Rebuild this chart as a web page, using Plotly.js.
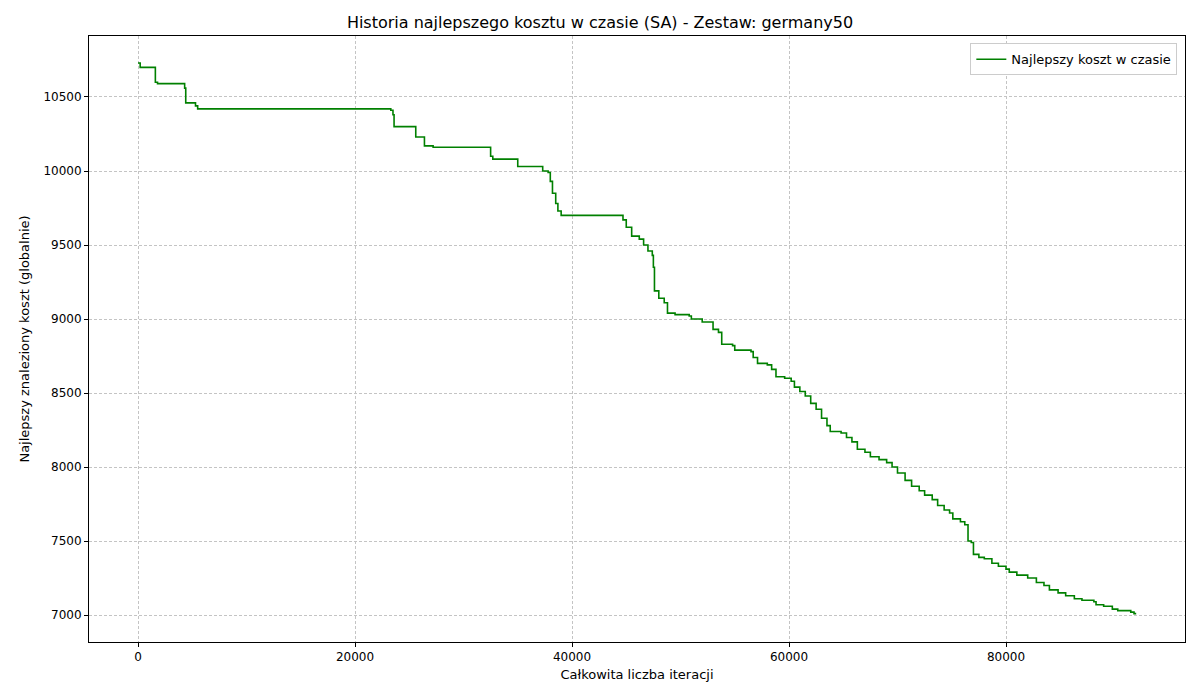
<!DOCTYPE html>
<html>
<head>
<meta charset="utf-8">
<script src="https://cdn.plot.ly/plotly-3.0.1.min.js"></script>
<style>body{margin:0}#gd{width:1200px;height:700px}</style>
</head>
<body>
<div id="gd"></div>
<script>
// best cost history
var iterations = [0,200,1500,1600,1800,4200,4300,4400,5200,5300,5500,22800,23300,23500,23600,25500,25600,26300,26400,27200,32400,32500,32700,34800,35000,37200,37300,37800,38000,38200,38500,38700,39000,44500,44700,45000,45500,46200,46600,47000,47400,47500,47600,48000,48500,48800,49500,50800,51000,52000,53000,53500,53800,54800,55000,56500,56700,57100,58000,58400,58800,59600,60200,60500,61000,61500,62000,62500,63000,63500,63800,64800,65300,65800,66300,67000,67500,68300,69000,69500,70000,70700,71300,72000,72500,73200,73700,74300,74800,75100,75800,76200,76500,76800,77000,77500,78000,78700,79300,80000,80300,81000,82000,82800,83500,84000,84800,85500,86300,87000,88100,88300,89000,89800,90300,91500,91800,92000];
var bestCost = [10730,10700,10700,10600,10590,10590,10560,10460,10460,10440,10420,10420,10410,10380,10300,10300,10230,10230,10170,10160,10160,10100,10080,10080,10030,10030,10000,9990,9930,9850,9780,9730,9700,9700,9670,9620,9560,9540,9500,9460,9430,9350,9190,9140,9110,9040,9030,9020,9000,8980,8930,8910,8830,8820,8790,8780,8740,8700,8690,8660,8610,8600,8580,8540,8510,8480,8430,8390,8330,8280,8240,8230,8200,8170,8120,8100,8070,8050,8030,8000,7960,7910,7870,7840,7810,7780,7740,7710,7690,7650,7630,7610,7500,7490,7410,7390,7380,7350,7330,7310,7290,7270,7250,7220,7200,7170,7150,7130,7110,7100,7090,7070,7060,7040,7030,7020,7010,7010];
var xTicks = [0, 20000, 40000, 60000, 80000];
var yTicks = [7000, 7500, 8000, 8500, 9000, 9500, 10000, 10500];

var data = [{
  x: iterations,
  y: bestCost,
  type: "scatter",
  mode: "lines",
  line: {color: "green", width: 1.6, shape: "hv"},
  name: "Najlepszy koszt w czasie"
}];

var grid = {showgrid: true, gridcolor: "#c4c4c4", griddash: "3px,2px", gridwidth: 0.6,
  zeroline: false, showline: true, mirror: true, linecolor: "black", linewidth: 1,
  ticks: "outside", ticklen: 4, tickcolor: "black", tickformat: "d"};

var layout = {
  width: 1200,
  height: 700,
  margin: {l: 89, r: 15, t: 36, b: 58},
  font: {family: "DejaVu Sans", size: 12, color: "black"},
  title: {text: "Historia najlepszego kosztu w czasie (SA) - Zestaw: germany50", font: {size: 16},
    y: 0.968, yanchor: "middle"},
  xaxis: Object.assign({}, grid, {range: [-4516, 96498], tickvals: xTicks,
    title: {text: "Całkowita liczba iteracji", font: {size: 13}, standoff: 6}}),
  yaxis: Object.assign({}, grid, {range: [6818, 10912], tickvals: yTicks,
    title: {text: "Najlepszy znaleziony koszt (globalnie)", font: {size: 13}, standoff: 10}}),
  showlegend: true,
  legend: {x: 0.993, y: 0.988, xanchor: "right", yanchor: "top", bordercolor: "#cccccc", borderwidth: 1, bgcolor: "white", font: {size: 13}},
  paper_bgcolor: "white",
  plot_bgcolor: "white"
};

Plotly.newPlot("gd", data, layout, {displayModeBar: false});
</script>
</body>
</html>
